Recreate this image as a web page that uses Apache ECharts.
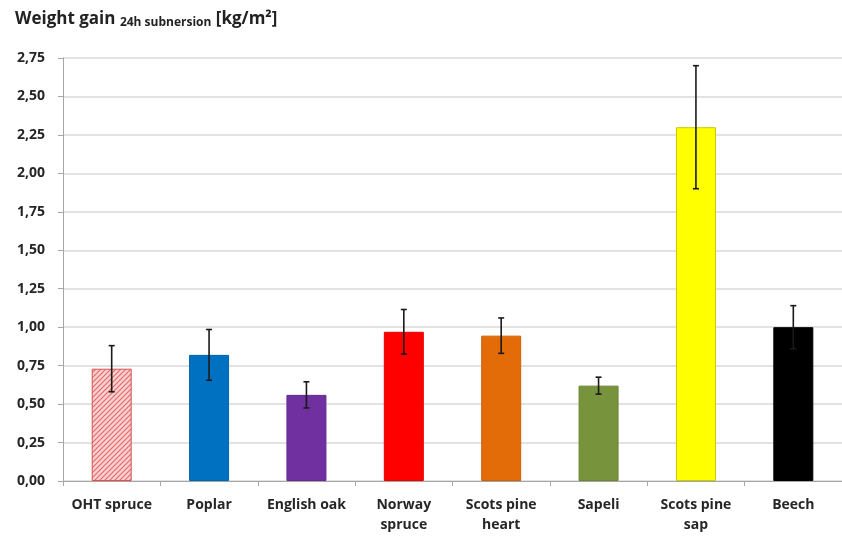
<!DOCTYPE html>
<html>
<head>
<meta charset="utf-8">
<script src="https://cdn.jsdelivr.net/npm/echarts@6/dist/echarts.min.js"></script>
<style>
  html, body { margin: 0; padding: 0; background: #fff; }
  #chart { width: 842px; height: 541px; }
</style>
</head>
<body>
<div id="chart"></div>
<script>
// Wood species and their 24 h submersion weight gain (kg/m²)
const categories = ['OHT spruce', 'Poplar', 'English oak', 'Norway\nspruce', 'Scots pine\nheart', 'Sapeli', 'Scots pine\nsap', 'Beech'];
const meanValues = [0.73, 0.82, 0.56, 0.97, 0.945, 0.62, 2.30, 1.00];
const errorValues = [0.15, 0.165, 0.085, 0.145, 0.115, 0.055, 0.40, 0.14];
const yTicks = [0, 0.25, 0.5, 0.75, 1.0, 1.25, 1.5, 1.75, 2.0, 2.25, 2.5, 2.75];

const barColors = ['hatch', '#0070C0', '#7030A0', '#FF0000', '#E36C09', '#77933C', '#FFFF00', '#000000'];
const barBorders = ['#D9534F', '#0065AD', '#652B90', '#E60000', '#CC6108', '#6B8536', '#C8C800', '#000000'];

const FONT = '"Open Sans", sans-serif';

// Diagonal red hatch on a light pink ground for the treated spruce
function hatchPattern() {
  const c = document.createElement('canvas');
  c.width = 5; c.height = 5;
  const g = c.getContext('2d');
  g.fillStyle = '#FAD0D0';
  g.fillRect(0, 0, 5, 5);
  g.strokeStyle = '#E36A6A';
  g.lineWidth = 1.2;
  g.beginPath();
  g.moveTo(0, 5); g.lineTo(5, 0);
  g.moveTo(-2.5, 2.5); g.lineTo(2.5, -2.5);
  g.moveTo(2.5, 7.5); g.lineTo(7.5, 2.5);
  g.stroke();
  return { image: c, repeat: 'repeat' };
}

const barData = meanValues.map((v, i) => ({
  value: v,
  itemStyle: {
    color: barColors[i] === 'hatch' ? hatchPattern() : barColors[i],
    borderColor: barBorders[i],
    borderWidth: 1
  }
}));

const errorData = meanValues.map((v, i) => [i, v - errorValues[i], v + errorValues[i]]);

const chart = echarts.init(document.getElementById('chart'));
chart.setOption({
  animation: false,
  backgroundColor: '#ffffff',
  title: {
    text: '{main|Weight gain }{sub|24h subnersion}{main| [kg/m²]}',
    left: 10,
    top: 4,
    textStyle: {
      rich: {
        main: { fontFamily: FONT, fontWeight: 'bold', fontSize: 17, color: '#222' },
        sub: { fontFamily: FONT, fontWeight: 'bold', fontSize: 12, color: '#222', verticalAlign: 'bottom', padding: [8, 0, 0, 0] }
      }
    }
  },
  grid: { left: 63, right: 0, top: 58, bottom: 60 },
  xAxis: {
    type: 'category',
    data: categories,
    axisLine: { lineStyle: { color: '#A6A6A6', width: 1 } },
    axisTick: { show: true, length: 5, lineStyle: { color: '#A6A6A6' } },
    axisLabel: {
      fontFamily: FONT, fontWeight: 'bold', fontSize: 14, color: '#262626',
      margin: 14, lineHeight: 20, interval: 0
    }
  },
  yAxis: {
    type: 'value',
    min: 0, max: 2.75, interval: 0.25,
    axisLine: { show: true, lineStyle: { color: '#A6A6A6' } },
    axisTick: { show: true, length: 5, lineStyle: { color: '#A6A6A6' } },
    splitLine: { lineStyle: { color: '#D9D9D9', width: 1.5 } },
    axisLabel: {
      fontFamily: FONT, fontWeight: 'bold', fontSize: 14, color: '#262626', margin: 18,
      formatter: v => yTicks.includes(Math.round(v * 100) / 100) ? v.toFixed(2).replace('.', ',') : ''
    }
  },
  series: [
    {
      type: 'bar',
      data: barData,
      barWidth: 40
    },
    {
      type: 'custom',
      data: errorData,
      z: 10,
      renderItem: function (params, api) {
        const x = api.value(0);
        const lo = api.coord([x, api.value(1)]);
        const hi = api.coord([x, api.value(2)]);
        const cap = 3;
        const style = { stroke: '#1a1a1a', lineWidth: 1.6 };
        return {
          type: 'group',
          children: [
            { type: 'line', shape: { x1: hi[0], y1: hi[1], x2: lo[0], y2: lo[1] }, style },
            { type: 'line', shape: { x1: hi[0] - cap, y1: hi[1], x2: hi[0] + cap, y2: hi[1] }, style },
            { type: 'line', shape: { x1: lo[0] - cap, y1: lo[1], x2: lo[0] + cap, y2: lo[1] }, style }
          ]
        };
      }
    }
  ]
});
</script>
</body>
</html>
